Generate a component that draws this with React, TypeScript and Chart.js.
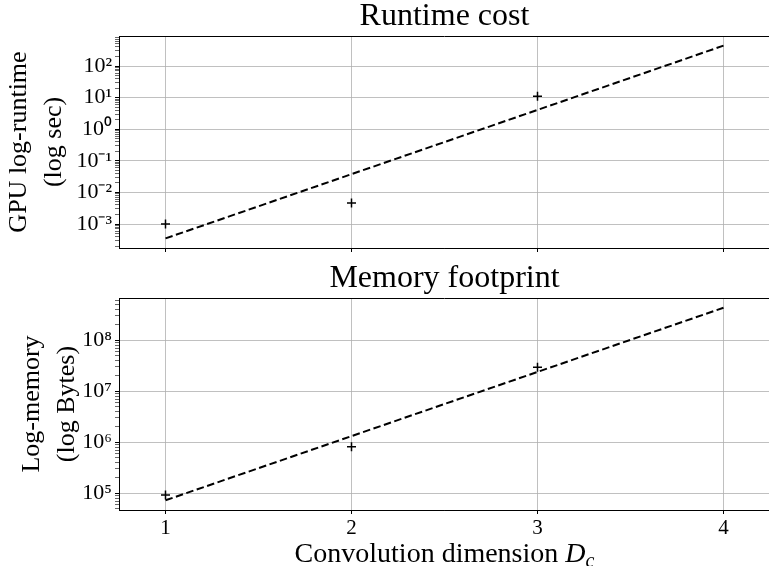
import React, { useEffect, useRef } from "react";
import { Chart, registerables } from "chart.js";

Chart.register(...registerables);

// ---- data ----
const DIMS = [1, 2, 3];
const RUNTIME = [1.0e-3, 4.6e-3, 11];
const MEMORY = [9.3e4, 8.2e5, 2.95e7];
const FIT_X = [1, 4];
const RUNTIME_FIT = [3.5e-4, 440];
const MEMORY_FIT = [7.3e4, 4.35e8];

const X_TICKS = [1, 2, 3, 4];
const X_LABELS = ["1", "2", "3", "4"];
const X_RANGE = [0.75, 4.25];

const RUNTIME_Y_TICKS = [1e-3, 1e-2, 1e-1, 1, 10, 100];
const RUNTIME_Y_LABELS = ["10⁻³", "10⁻²", "10⁻¹", "10⁰", "10¹", "10²"];
const RUNTIME_Y_RANGE = [1.74e-4, 890];

const MEMORY_Y_TICKS = [1e5, 1e6, 1e7, 1e8];
const MEMORY_Y_LABELS = ["10⁵", "10⁶", "10⁷", "10⁸"];
const MEMORY_Y_RANGE = [4.71e4, 6.75e8];

const FONT = "'Liberation Serif', 'Times New Roman', serif";

function minorTicks(min: number, max: number): number[] {
  const out: number[] = [];
  const e0 = Math.floor(Math.log10(min));
  const e1 = Math.ceil(Math.log10(max));
  for (let e = e0; e <= e1; e++) {
    for (let k = 2; k <= 9; k++) {
      const v = k * Math.pow(10, e);
      if (v >= min && v <= max) out.push(v);
    }
  }
  return out;
}

const topSpine = {
  id: "topSpine",
  afterDraw(chart: any) {
    const { ctx, chartArea } = chart;
    ctx.save();
    ctx.strokeStyle = "#000";
    ctx.lineWidth = 1;
    ctx.beginPath();
    ctx.moveTo(chartArea.left, Math.round(chartArea.top) + 0.5);
    ctx.lineTo(chartArea.right, Math.round(chartArea.top) + 0.5);
    ctx.stroke();
    ctx.restore();
  },
};

const xTitlePlugin = {
  id: "xTitle",
  afterDraw(chart: any) {
    const { ctx, chartArea } = chart;
    const xs = chart.scales.x;
    const cx = (chartArea.left + chartArea.right) / 2;
    const base = xs.bottom - 4;
    const p1 = "Convolution dimension ";
    const p2 = "D";
    const p3 = "c";
    ctx.save();
    ctx.fillStyle = "#000";
    ctx.textBaseline = "alphabetic";
    ctx.textAlign = "left";
    ctx.font = `28px ${FONT}`;
    const w1 = ctx.measureText(p1).width;
    ctx.font = `italic 28px ${FONT}`;
    const w2 = ctx.measureText(p2).width;
    ctx.font = `italic 20px ${FONT}`;
    const w3 = ctx.measureText(p3).width;
    let x = cx - (w1 + w2 + w3) / 2;
    ctx.font = `28px ${FONT}`;
    ctx.fillText(p1, x, base);
    x += w1;
    ctx.font = `italic 28px ${FONT}`;
    ctx.fillText(p2, x, base);
    x += w2;
    ctx.font = `italic 20px ${FONT}`;
    ctx.fillText(p3, x, base + 5);
    ctx.restore();
  },
};

function makeConfig(opts: {
  title: string;
  yTitle: string[];
  yTitlePad: number;
  values: number[];
  fit: number[];
  yTicks: number[];
  yLabels: string[];
  yRange: number[];
  showXLabels: boolean;
  xHeight: number;
}) {
  const minors = minorTicks(opts.yRange[0], opts.yRange[1]);
  return {
    type: "scatter" as const,
    data: {
      datasets: [
        {
          data: FIT_X.map((x, i) => ({ x, y: opts.fit[i] })),
          showLine: true,
          borderColor: "#000",
          borderWidth: 2,
          borderDash: [7.5, 3.5],
          pointRadius: 0,
          fill: false,
        },
        {
          data: DIMS.map((x, i) => ({ x, y: opts.values[i] })),
          pointStyle: "cross",
          pointRadius: 4.5,
          pointBorderWidth: 1.5,
          borderColor: "#000",
          backgroundColor: "#000",
          showLine: false,
        },
      ],
    },
    options: {
      animation: false as const,
      responsive: false,
      events: [],
      layout: { padding: 0, autoPadding: false },
      plugins: {
        legend: { display: false },
        tooltip: { enabled: false },
        title: {
          display: true,
          text: opts.title,
          fullSize: false,
          color: "#000",
          font: { family: FONT, size: 32, weight: "normal" as const, lineHeight: 1 },
          padding: { top: 1, bottom: 3 },
        },
      },
      scales: {
        x: {
          type: "linear" as const,
          min: X_RANGE[0],
          max: X_RANGE[1],
          afterBuildTicks: (scale: any) => {
            scale.ticks = X_TICKS.map((v) => ({ value: v, major: true }));
          },
          afterFit: (scale: any) => {
            scale.height = opts.xHeight;
            scale.paddingLeft = 0;
            scale.paddingRight = 0;
          },
          ticks: {
            display: opts.showXLabels,
            autoSkip: false,
            maxRotation: 0,
            padding: 1.5,
            color: "#000",
            font: { family: FONT, size: 21 },
            callback: (value: number) => {
              const i = X_TICKS.indexOf(value);
              return i >= 0 ? X_LABELS[i] : "";
            },
          },
          grid: {
            color: "#b0b0b0",
            lineWidth: 0.8,
            drawTicks: true,
            tickLength: 4,
            tickColor: "#000",
            tickWidth: 1,
          },
          border: { display: true, color: "#000", width: 1 },
        },
        y: {
          type: "logarithmic" as const,
          min: opts.yRange[0],
          max: opts.yRange[1],
          afterBuildTicks: (scale: any) => {
            const t = [
              ...opts.yTicks.map((v) => ({ value: v, major: true })),
              ...minors.map((v) => ({ value: v, major: false })),
            ];
            t.sort((a, b) => a.value - b.value);
            scale.ticks = t;
          },
          afterFit: (scale: any) => {
            scale.width = 119;
            scale.paddingTop = 0;
            scale.paddingBottom = 0;
          },
          ticks: {
            autoSkip: false,
            padding: 3,
            color: "#000",
            font: { family: FONT, size: 22 },
            callback: (value: number) => {
              const i = opts.yTicks.findIndex((v) => Math.abs(v - value) / v < 1e-6);
              return i >= 0 ? opts.yLabels[i] : "";
            },
          },
          grid: {
            color: (ctx: any) => (ctx.tick && ctx.tick.major ? "#b0b0b0" : "rgba(0,0,0,0)"),
            lineWidth: 0.8,
            drawTicks: true,
            tickLength: 4,
            tickColor: "#000",
            tickWidth: (ctx: any) => (ctx.tick && ctx.tick.major ? 1 : 0.6),
          },
          border: { display: true, color: "#000", width: 1 },
          title: {
            display: true,
            text: opts.yTitle,
            color: "#000",
            font: { family: FONT, size: 26, lineHeight: 1.35 },
            padding: { top: opts.yTitlePad, bottom: 0 },
          },
        },
      },
    },
  };
}

function Panel(props: { config: any; plugins: any[]; width: number; height: number; top: number }) {
  const ref = useRef<HTMLCanvasElement | null>(null);
  useEffect(() => {
    if (!ref.current) return;
    const chart = new Chart(ref.current, { ...props.config, plugins: props.plugins });
    return () => chart.destroy();
  }, []);
  return (
    <canvas
      ref={ref}
      width={props.width}
      height={props.height}
      style={{ position: "absolute", left: 0, top: props.top, width: props.width, height: props.height, display: "block" }}
    />
  );
}

export default function App() {
  const topCfg = makeConfig({
    title: "Runtime cost",
    yTitle: ["GPU log-runtime", "(log sec)"],
    yTitlePad: 1.5,
    values: RUNTIME,
    fit: RUNTIME_FIT,
    yTicks: RUNTIME_Y_TICKS,
    yLabels: RUNTIME_Y_LABELS,
    yRange: RUNTIME_Y_RANGE,
    showXLabels: false,
    xHeight: 14,
  });
  const botCfg = makeConfig({
    title: "Memory footprint",
    yTitle: ["Log-memory", "(log Bytes)"],
    yTitlePad: 14.5,
    values: MEMORY,
    fit: MEMORY_FIT,
    yTicks: MEMORY_Y_TICKS,
    yLabels: MEMORY_Y_LABELS,
    yRange: MEMORY_Y_RANGE,
    showXLabels: true,
    xHeight: 56,
  });
  return (
    <div
      style={{
        position: "absolute",
        left: 0,
        top: 0,
        width: 769,
        height: 566,
        overflow: "hidden",
        background: "#fff",
      }}
    >
      <Panel config={topCfg} plugins={[topSpine]} width={770} height={262} top={0} />
      <Panel config={botCfg} plugins={[topSpine, xTitlePlugin]} width={770} height={304} top={262} />
    </div>
  );
}
